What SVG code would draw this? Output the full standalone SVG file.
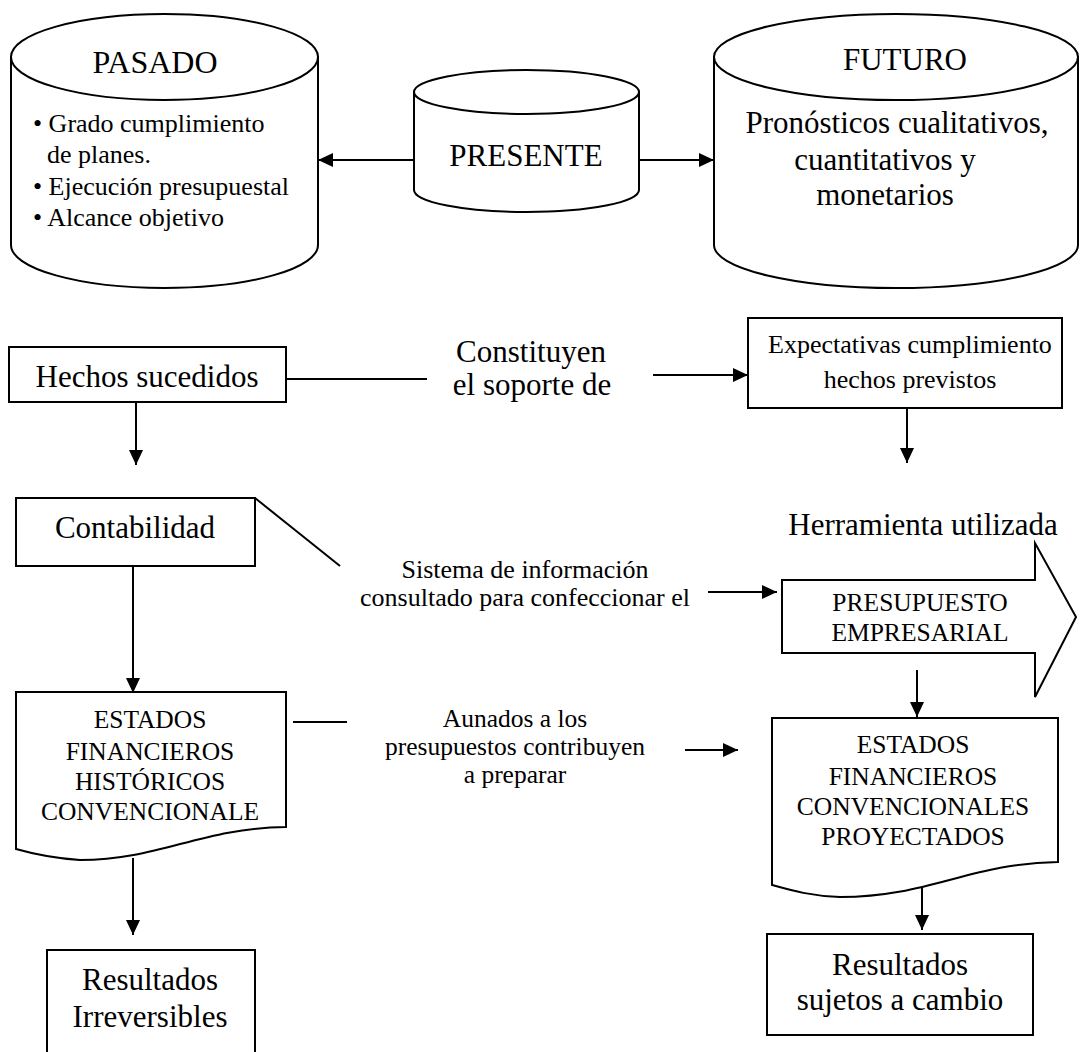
<svg xmlns="http://www.w3.org/2000/svg" width="1080" height="1052" viewBox="0 0 1080 1052">
<style>
.s{fill:#fff;stroke:#000;stroke-width:2}
.c{fill:none;stroke:#000;stroke-width:2}
.t{font-family:"Liberation Serif","Times New Roman",serif;fill:#000}
.L{font-size:31px}
.X{font-size:32px}
.M{font-size:26px}
.S{font-size:25.5px}
.m{text-anchor:middle}
</style>
<defs>
<marker id="ah" markerUnits="userSpaceOnUse" markerWidth="16" markerHeight="16" viewBox="0 0 16 16" refX="15" refY="8" orient="auto">
<path d="M0,1 L15,8 L0,15 Z" fill="#000"/>
</marker>
</defs>
<rect width="1080" height="1052" fill="#fff"/>

<g id="pasado">
<path class="s" d="M11,57 L11,245 A153.5,43 0 0 0 318,245 L318,57 Z"/>
<ellipse class="s" cx="164.5" cy="57" rx="153.5" ry="43"/>
<text class="t X m" x="155" y="73">PASADO</text>
<text class="t M" x="33" y="132">• Grado cumplimiento</text>
<text class="t M" x="47" y="163">de planes.</text>
<text class="t M" x="33" y="195">• Ejecución presupuestal</text>
<text class="t M" x="33" y="226">• Alcance objetivo</text>
</g>

<g id="presente">
<path class="s" d="M414,92 L414,190 A112.5,22 0 0 0 639,190 L639,92 Z"/>
<ellipse class="s" cx="526.5" cy="92" rx="112.5" ry="22"/>
<text class="t L m" x="526" y="166">PRESENTE</text>
</g>

<g id="futuro">
<path class="s" d="M714,57 L714,245 A182,43 0 0 0 1078,245 L1078,57 Z"/>
<ellipse class="s" cx="896" cy="57" rx="182" ry="43"/>
<text class="t L m" x="905" y="70">FUTURO</text>
<text class="t L m" x="897" y="133">Pronósticos cualitativos,</text>
<text class="t L m" x="885" y="170">cuantitativos y</text>
<text class="t L m" x="885" y="205">monetarios</text>
</g>

<g id="hechos">
<rect class="s" x="9" y="347" width="277" height="55"/>
<text class="t L m" x="147" y="387">Hechos sucedidos</text>
</g>

<g id="constituyen">
<text class="t L m" x="531" y="362">Constituyen</text>
<text class="t L m" x="532" y="395">el soporte de</text>
</g>

<g id="expectativas">
<rect class="s" x="748" y="318" width="314" height="90"/>
<text class="t M m" x="910" y="353">Expectativas cumplimiento</text>
<text class="t M m" x="910" y="388">hechos previstos</text>
</g>

<g id="contabilidad">
<rect class="s" x="16" y="498" width="239" height="68"/>
<text class="t L m" x="135" y="538">Contabilidad</text>
</g>

<g id="sistema">
<text class="t M m" x="525" y="578">Sistema de información</text>
<text class="t M m" x="525" y="606">consultado para confeccionar el</text>
</g>

<g id="herramienta">
<text class="t L m" x="923" y="535">Herramienta utilizada</text>
</g>

<g id="presupuesto">
<path class="s" d="M782,580 H1035 V543 L1076,617 L1035,697 V653 H782 Z"/>
<text class="t S m" x="920" y="611">PRESUPUESTO</text>
<text class="t S m" x="920" y="641">EMPRESARIAL</text>
</g>

<g id="estados-historicos">
<path class="s" d="M16,692 H286 V827 C200,828 160,860 80,860 C50,858 30,853 16,849 Z"/>
<text class="t S m" x="150" y="728">ESTADOS</text>
<text class="t S m" x="150" y="760">FINANCIEROS</text>
<text class="t S m" x="150" y="790">HISTÓRICOS</text>
<text class="t S m" x="150" y="820">CONVENCIONALE</text>
</g>

<g id="aunados">
<text class="t S m" x="515" y="727">Aunados a los</text>
<text class="t S m" x="515" y="755">presupuestos contribuyen</text>
<text class="t S m" x="515" y="783">a preparar</text>
</g>

<g id="estados-proyectados">
<path class="s" d="M772,718 H1058 V862 C970,863 930,897 840,897 C810,896 790,890 772,885 Z"/>
<text class="t S m" x="913" y="753">ESTADOS</text>
<text class="t S m" x="913" y="785">FINANCIEROS</text>
<text class="t S m" x="913" y="815">CONVENCIONALES</text>
<text class="t S m" x="913" y="845">PROYECTADOS</text>
</g>

<g id="resultados-irreversibles">
<rect class="s" x="47" y="950" width="208" height="130"/>
<text class="t L m" x="150" y="990">Resultados</text>
<text class="t L m" x="150" y="1027">Irreversibles</text>
</g>

<g id="resultados-cambio">
<rect class="s" x="767" y="934" width="266" height="101"/>
<text class="t L m" x="900" y="975">Resultados</text>
<text class="t L m" x="900" y="1010">sujetos a cambio</text>
</g>

<g id="connectors">
<line class="c" x1="414" y1="160" x2="318" y2="160" marker-end="url(#ah)"/>
<line class="c" x1="639" y1="160" x2="714" y2="160" marker-end="url(#ah)"/>
<line class="c" x1="286" y1="379" x2="427" y2="379"/>
<line class="c" x1="653" y1="375" x2="748" y2="375" marker-end="url(#ah)"/>
<line class="c" x1="136" y1="403" x2="136" y2="465" marker-end="url(#ah)"/>
<line class="c" x1="907" y1="408" x2="907" y2="463" marker-end="url(#ah)"/>
<line class="c" x1="255" y1="498" x2="340" y2="566" stroke-width="1.5"/>
<line class="c" x1="133" y1="566" x2="133" y2="693" marker-end="url(#ah)"/>
<line class="c" x1="708" y1="592" x2="777" y2="592" marker-end="url(#ah)"/>
<line class="c" x1="917" y1="670" x2="917" y2="717" marker-end="url(#ah)"/>
<line class="c" x1="293" y1="722" x2="347" y2="722"/>
<line class="c" x1="685" y1="750" x2="738" y2="750" marker-end="url(#ah)"/>
<line class="c" x1="133" y1="858" x2="133" y2="935" marker-end="url(#ah)"/>
<line class="c" x1="922" y1="887" x2="922" y2="930" marker-end="url(#ah)"/>
</g>
</svg>
